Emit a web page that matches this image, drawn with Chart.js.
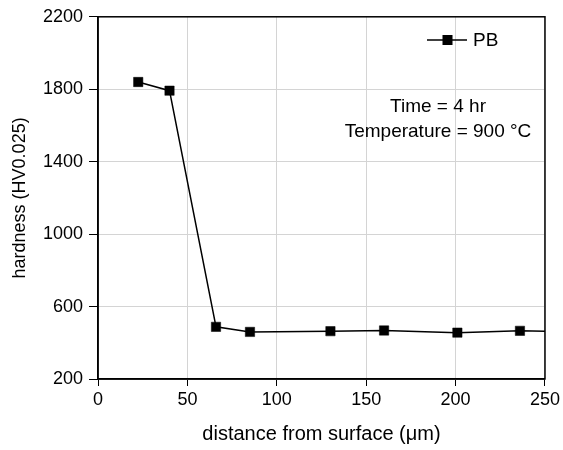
<!DOCTYPE html>
<html>
<head>
<meta charset="utf-8">
<script src="https://cdn.jsdelivr.net/npm/chart.js@4/dist/chart.umd.min.js"></script>
<style>
  html, body { margin: 0; padding: 0; background: #fff; }
  #wrap { width: 563px; height: 450px; }
</style>
</head>
<body>
<div id="wrap"><canvas id="hardnessChart"></canvas></div>
<script>
// Data
const distance = [22.5, 40, 66, 85, 130, 160, 201, 236, 270];
const hardness = [1840, 1792, 488, 460, 464, 468, 456, 466, 461];
const xTicks = [0, 50, 100, 150, 200, 250];
const yTicks = [200, 600, 1000, 1400, 1800, 2200];
const seriesName = 'PB';
const noteLines = ['Time = 4 hr', 'Temperature = 900 °C'];

const FONT = '"Liberation Sans", Arial, sans-serif';
const points = distance.map((d, i) => ({ x: d, y: hardness[i] }));

// frame, legend and the text note
const extras = {
    id: 'extras',
    afterDatasetsDraw(chart) {
        const { ctx, chartArea: a } = chart;
        ctx.save();
        ctx.strokeStyle = '#000';
        ctx.lineWidth = 1.5;
        ctx.strokeRect(a.left, a.top, a.right - a.left, a.bottom - a.top);

        // legend
        const ly = 40;
        ctx.beginPath();
        ctx.moveTo(427, ly);
        ctx.lineTo(467, ly);
        ctx.stroke();
        ctx.fillStyle = '#000';
        ctx.fillRect(442.5, ly - 5, 10, 10);
        ctx.font = '19px ' + FONT;
        ctx.textBaseline = 'middle';
        ctx.textAlign = 'left';
        ctx.fillText(seriesName, 473, ly + 1);

        // note
        ctx.textAlign = 'center';
        ctx.fillText(noteLines[0], 438, 107);
        ctx.fillText(noteLines[1], 438, 132);
        ctx.restore();
    }
};

new Chart(document.getElementById('hardnessChart'), {
    type: 'scatter',
    data: {
        datasets: [{
            label: seriesName,
            data: points,
            showLine: true,
            borderColor: '#000',
            borderWidth: 1.5,
            backgroundColor: '#000',
            pointStyle: 'rect',
            pointRadius: 6.6,
            pointBorderWidth: 0.5,
            pointBorderColor: '#000',
            pointBackgroundColor: '#000'
        }]
    },
    options: {
        responsive: true,
        maintainAspectRatio: false,
        animation: false,
        events: [],
        layout: { padding: { top: 13, right: 16, left: 0, bottom: 0 } },
        plugins: {
            legend: { display: false },
            tooltip: { enabled: false }
        },
        scales: {
            x: {
                type: 'linear',
                min: 0,
                max: 250,
                afterBuildTicks: s => { s.ticks = xTicks.map(v => ({ value: v })); },
                afterFit: s => { s.height = 71; },
                grid: { color: '#d4d4d4', lineWidth: 1, tickColor: '#000', tickLength: 7 },
                border: { color: '#000', width: 1.5 },
                ticks: { color: '#000', font: { family: FONT, size: 18 }, padding: 3, maxRotation: 0, callback: v => String(v) },
                title: {
                    display: true,
                    text: 'distance from surface (μm)',
                    color: '#000',
                    font: { family: FONT, size: 20 },
                    padding: { top: 0, bottom: 4 }
                }
            },
            y: {
                type: 'linear',
                min: 200,
                max: 2200,
                afterBuildTicks: s => { s.ticks = yTicks.map(v => ({ value: v })); },
                afterFit: s => { s.width = 98; },
                grid: { color: '#d4d4d4', lineWidth: 1, tickColor: '#000', tickLength: 9 },
                border: { color: '#000', width: 1.5 },
                ticks: { color: '#000', font: { family: FONT, size: 18 }, padding: 6, callback: v => String(v) },
                title: {
                    display: true,
                    text: 'hardness (HV0.025)',
                    color: '#000',
                    font: { family: FONT, size: 18 },
                    padding: { top: 9, bottom: 0 }
                }
            }
        }
    },
    plugins: [extras]
});
</script>
</body>
</html>
